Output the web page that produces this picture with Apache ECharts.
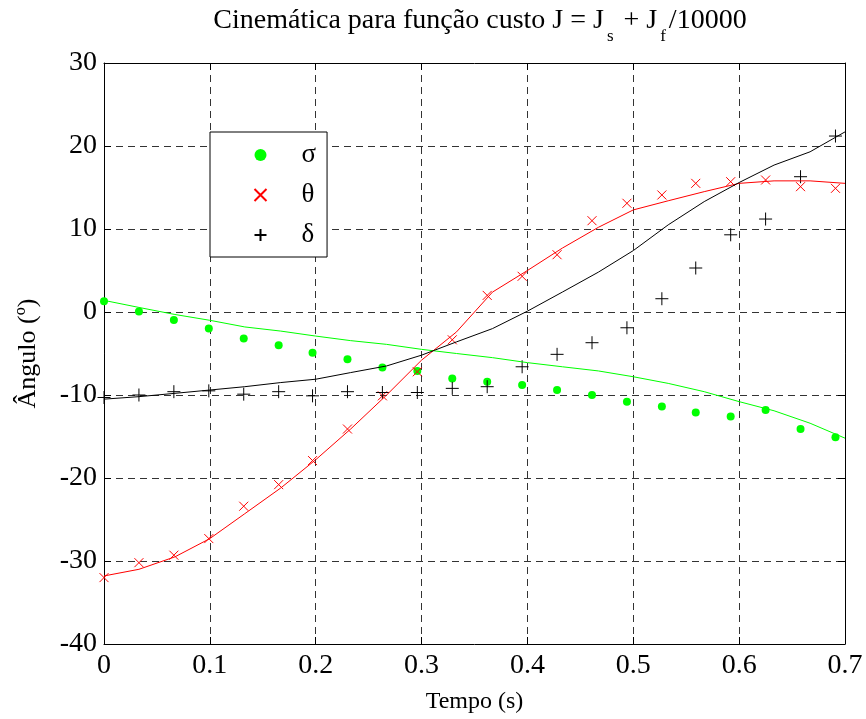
<!DOCTYPE html>
<html lang="pt">
<head>
<meta charset="utf-8">
<title>Cinemática</title>
<script src="https://cdn.jsdelivr.net/npm/echarts@6.0.0/dist/echarts.min.js"></script>
<style>
  html, body { margin: 0; padding: 0; background: #fff; }
  #chart { width: 866px; height: 719px; }
</style>
</head>
<body>
<div id="chart"></div>
<script>
// amostras (marcadores)
var tempo = [0, 0.033, 0.066, 0.099, 0.132, 0.165, 0.197, 0.23, 0.263, 0.296, 0.329,
             0.362, 0.395, 0.428, 0.461, 0.494, 0.527, 0.559, 0.592, 0.625, 0.658, 0.691];
var sigma = [1.3, 0.05, -0.95, -2.0, -3.2, -4.0, -4.9, -5.7, -6.7, -7.1, -8.0,
             -8.4, -8.8, -9.4, -10.0, -10.8, -11.4, -12.1, -12.6, -11.8, -14.1, -15.1];
var theta = [-32.0, -30.2, -29.3, -27.3, -23.4, -20.8, -17.9, -14.1, -10.1, -7.2, -3.35,
             2.0, 4.3, 6.9, 11.0, 13.1, 14.1, 15.5, 15.7, 15.9, 15.1, 14.9];
var delta = [-10.3, -10.0, -9.6, -9.5, -9.9, -9.6, -10.1, -9.6, -9.7, -9.7, -9.2,
             -9.0, -6.6, -5.1, -3.7, -1.9, 1.6, 5.3, 9.3, 11.2, 16.3, 21.2];

// curvas do modelo
var tempoModelo = [0, 0.033, 0.067, 0.1, 0.133, 0.167, 0.2, 0.233, 0.267, 0.3, 0.333,
                   0.367, 0.4, 0.433, 0.467, 0.5, 0.533, 0.567, 0.6, 0.633, 0.667, 0.7];
var sigmaModelo = [1.4, 0.55, -0.3, -1.0, -1.8, -2.3, -2.9, -3.45, -3.9, -4.5, -5.0,
                   -5.5, -6.1, -6.6, -7.1, -7.8, -8.6, -9.6, -10.8, -11.9, -13.4, -15.2];
var thetaModelo = [-31.8, -31.0, -29.5, -27.3, -24.3, -21.2, -17.8, -14.1, -10.0, -5.8, -2.4,
                   2.4, 5.0, 7.7, 10.2, 12.3, 13.4, 14.5, 15.5, 15.8, 15.8, 15.5];
var deltaModelo = [-10.5, -10.2, -9.8, -9.4, -9.0, -8.5, -8.1, -7.3, -6.5, -5.2, -3.6,
                   -2.0, 0.1, 2.4, 4.8, 7.4, 10.5, 13.3, 15.6, 17.7, 19.3, 21.7];

var nomes = ['σ', 'θ', 'δ'];

var fonte = 'Liberation Serif, Times New Roman, serif';
var simboloX = 'path://M0,0L10,10M10,0L0,10';
var simboloMais = 'path://M5,0L5,10M0,5L10,5';

function pares(xs, ys) {
    return xs.map(function (x, i) { return [x, ys[i]]; });
}

var gradeTracejada = { show: true, lineStyle: { color: '#333', width: 1, type: [7, 5] } };
var ticksDentro = { show: true, inside: true, length: 7, lineStyle: { color: '#000' } };
var linhaEixo = { show: true, onZero: false, lineStyle: { color: '#000', width: 1 } };

var chart = echarts.init(document.getElementById('chart'));

var option = {
    animation: false,
    backgroundColor: '#fff',
    title: {
        text: '{n|Cinemática para função custo J = J}{s|s}{n| + J}{s|f}{n|/10000}',
        left: 475,
        textAlign: 'center',
        top: 2,
        textStyle: {
            fontWeight: 'normal',
            rich: {
                n: { fontFamily: fonte, fontSize: 28, fontWeight: 'normal', color: '#000', lineHeight: 32, verticalAlign: 'top' },
                s: { fontFamily: fonte, fontSize: 17, fontWeight: 'normal', color: '#000', lineHeight: 17, padding: [21, 3, 0, 3], verticalAlign: 'top' }
            }
        }
    },
    grid: { left: 104, right: 21, top: 63, bottom: 75 },
    legend: {
        data: [
            { name: nomes[0], icon: 'circle' },
            { name: nomes[1], icon: simboloX },
            { name: nomes[2], icon: simboloMais }
        ],
        orient: 'vertical',
        left: 210,
        top: 132,
        width: 116,
        backgroundColor: '#fff',
        borderColor: '#000',
        borderWidth: 1,
        borderRadius: 0,
        padding: [9, 11, 8, 42],
        itemWidth: 12,
        itemHeight: 12,
        itemGap: 12,
        selectedMode: false,
        textStyle: { fontFamily: fonte, fontSize: 27, color: '#000', lineHeight: 28, padding: [0, 0, 0, 30] }
    },
    xAxis: [{
        type: 'value', min: 0, max: 0.7, interval: 0.1,
        name: 'Tempo (s)', nameLocation: 'middle', nameGap: 46,
        nameTextStyle: { fontFamily: fonte, fontSize: 24, color: '#000' },
        axisLine: linhaEixo, axisTick: ticksDentro,
        axisLabel: {
            fontFamily: fonte, fontSize: 28, color: '#000', margin: 8,
            formatter: function (v) { return String(parseFloat(v.toFixed(1))); }
        },
        splitLine: gradeTracejada
    }, {
        type: 'value', position: 'top', min: 0, max: 0.7, interval: 0.1,
        axisLine: linhaEixo, axisTick: ticksDentro,
        axisLabel: { show: false }, splitLine: { show: false }
    }],
    yAxis: [{
        type: 'value', min: -40, max: 30, interval: 10,
        name: 'Ângulo (º)', nameLocation: 'middle', nameGap: 63, nameRotate: 90,
        nameTextStyle: { fontFamily: fonte, fontSize: 26, color: '#000' },
        axisLine: linhaEixo, axisTick: ticksDentro,
        axisLabel: { fontFamily: fonte, fontSize: 28, color: '#000', margin: 7 },
        splitLine: gradeTracejada
    }, {
        type: 'value', position: 'right', min: -40, max: 30, interval: 10,
        axisLine: linhaEixo, axisTick: ticksDentro,
        axisLabel: { show: false }, splitLine: { show: false }
    }],
    series: [{
        name: 'σ modelo', type: 'line', data: pares(tempoModelo, sigmaModelo),
        showSymbol: false, symbol: 'none', silent: true,
        lineStyle: { color: '#00ff00', width: 1 }
    }, {
        name: 'θ modelo', type: 'line', data: pares(tempoModelo, thetaModelo),
        showSymbol: false, symbol: 'none', silent: true,
        lineStyle: { color: '#ff0000', width: 1 }
    }, {
        name: 'δ modelo', type: 'line', data: pares(tempoModelo, deltaModelo),
        showSymbol: false, symbol: 'none', silent: true,
        lineStyle: { color: '#000', width: 1 }
    }, {
        name: nomes[0], type: 'scatter', data: pares(tempo, sigma),
        symbol: 'circle', symbolSize: 8,
        itemStyle: { color: '#00ff00', opacity: 1 }
    }, {
        name: nomes[1], type: 'scatter', data: pares(tempo, theta),
        symbol: simboloX, symbolSize: 9,
        itemStyle: { color: 'none', borderColor: '#ff0000', borderWidth: 1, opacity: 1 }
    }, {
        name: nomes[2], type: 'scatter', data: pares(tempo, delta),
        symbol: simboloMais, symbolSize: 13,
        itemStyle: { color: 'none', borderColor: '#000', borderWidth: 1, opacity: 1 }
    }]
};

chart.setOption(option);
</script>
</body>
</html>
